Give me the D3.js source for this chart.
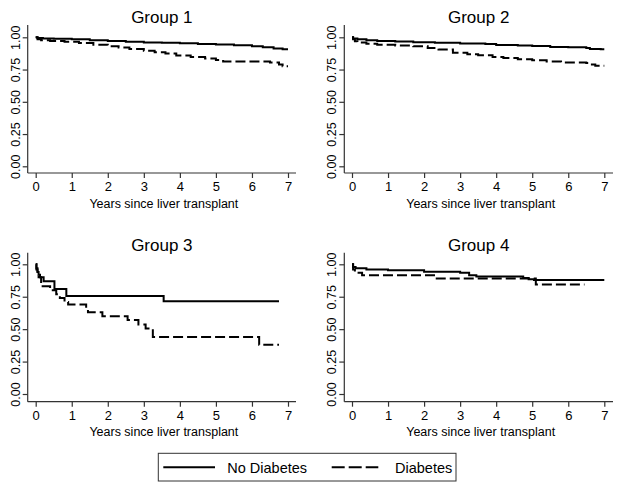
<!DOCTYPE html>
<html><head><meta charset="utf-8">
<script src="https://cdn.jsdelivr.net/npm/d3@7"></script>
<style>body{margin:0;background:#fff}svg{display:block}text{font-family:"Liberation Sans",Arial,sans-serif;fill:#000}</style>
</head><body>
<svg id="c" width="624" height="490"></svg>
<script>
const groupTitles = ["Group 1", "Group 2", "Group 3", "Group 4"];
const seriesNames = ["No Diabetes", "Diabetes"];
const xTicks = [0, 1, 2, 3, 4, 5, 6, 7];
const yTicks = [0, 0.25, 0.5, 0.75, 1];
const xTitle = "Years since liver transplant";

// [years, survival] step points; last point = end of follow-up
const g1NoDiab = [[0,1],[0.05,0.995],[0.2,0.99],[0.5,0.988],[1,0.985],[1.5,0.978],[2,0.972],[2.5,0.965],[3,0.96],[3.5,0.957],[4,0.953],[4.5,0.948],[5,0.945],[5.5,0.938],[6,0.93],[6.3,0.922],[6.6,0.914],[6.85,0.908],[7,0.908]];
const g1Diab = [[0,1],[0.05,0.985],[0.15,0.978],[0.4,0.972],[0.8,0.965],[1.2,0.955],[1.6,0.943],[2,0.93],[2.3,0.92],[2.6,0.91],[3,0.895],[3.3,0.885],[3.6,0.875],[3.9,0.858],[4.3,0.848],[4.7,0.835],[5.0,0.825],[5.2,0.812],[6.5,0.805],[6.75,0.79],[6.85,0.775],[7,0.775]];
const g2NoDiab = [[0,1],[0.03,0.99],[0.15,0.985],[0.4,0.978],[0.7,0.972],[1.2,0.967],[1.7,0.962],[2.3,0.958],[3,0.952],[3.7,0.948],[4,0.94],[4.6,0.936],[5,0.932],[5.5,0.925],[6,0.922],[6.5,0.918],[6.6,0.91],[6.9,0.907],[7,0.907]];
const g2Diab = [[0,1],[0.03,0.985],[0.08,0.97],[0.15,0.96],[0.4,0.95],[0.7,0.943],[1.2,0.937],[1.7,0.93],[2.1,0.918],[2.4,0.905],[2.8,0.88],[3.2,0.868],[3.5,0.86],[3.9,0.848],[4.2,0.84],[4.6,0.83],[5,0.822],[5.4,0.812],[5.8,0.805],[6.5,0.8],[6.6,0.79],[6.75,0.78],[7,0.78]];
const g3NoDiab = [[0,1],[0.02,0.97],[0.05,0.94],[0.08,0.92],[0.12,0.9],[0.22,0.87],[0.52,0.81],[0.85,0.755],[3.55,0.715],[6.75,0.715]];
const g3Diab = [[0,1],[0.02,0.96],[0.05,0.93],[0.08,0.9],[0.15,0.83],[0.4,0.8],[0.57,0.77],[0.67,0.74],[0.8,0.71],[0.9,0.69],[1.4,0.66],[1.45,0.63],[1.85,0.6],[2.55,0.57],[2.85,0.535],[3.05,0.505],[3.25,0.44],[6.2,0.38],[6.75,0.38]];
const g4NoDiab = [[0,1],[0.03,0.98],[0.1,0.97],[0.4,0.96],[1.0,0.955],[2.0,0.943],[3.0,0.935],[3.25,0.915],[3.45,0.905],[4.75,0.895],[4.9,0.885],[5.05,0.878],[7,0.878]];
const g4Diab = [[0,1],[0.03,0.96],[0.08,0.935],[0.28,0.915],[2.32,0.89],[5.1,0.845],[6.45,0.845]];

const panelData = [[g1NoDiab, g1Diab], [g2NoDiab, g2Diab], [g3NoDiab, g3Diab], [g4NoDiab, g4Diab]];

const layouts = [
  {x0:35.7, x1:288, ax0:27.7, ax1:296, y0:166.3, y1:37.3, axB:173, axT:25, tY:23},
  {x0:352, x1:604.3, ax0:344.3, ax1:613, y0:166.3, y1:37.3, axB:173, axT:25, tY:23},
  {x0:35.7, x1:288, ax0:27.7, ax1:296, y0:394, y1:264.3, axB:401.7, axT:252.7, tY:251},
  {x0:352, x1:604.3, ax0:344.3, ax1:613, y0:394, y1:264.3, axB:401.7, axT:252.7, tY:251}
];

const svg = d3.select("#c");
const axisColor = "#333";
const dashPlot = "10,4";

layouts.forEach((L, i) => {
  const g = svg.append("g");
  const x = d3.scaleLinear().domain([0, 7]).range([L.x0, L.x1]);
  const y = d3.scaleLinear().domain([0, 1]).range([L.y0, L.y1]);

  const xa = g.append("g").attr("transform", `translate(0,${L.axB})`)
    .call(d3.axisBottom(x).tickValues(xTicks).tickSize(5).tickPadding(4).tickFormat(d3.format("d")));
  xa.select(".domain").remove();
  xa.append("line").attr("x1", L.ax0).attr("x2", L.ax1).attr("stroke", axisColor).attr("stroke-width", 1.2);
  xa.selectAll(".tick line").attr("stroke", axisColor).attr("stroke-width", 1.2);
  xa.selectAll(".tick text").attr("font-size", 13).attr("fill", "#000").style("font-family", '"Liberation Sans",Arial,sans-serif');

  const ya = g.append("g").attr("transform", `translate(${L.ax0},0)`)
    .call(d3.axisLeft(y).tickValues(yTicks).tickSize(5).tickFormat(d3.format(".2f")));
  ya.select(".domain").remove();
  ya.append("line").attr("y1", L.axB).attr("y2", L.axT).attr("stroke", axisColor).attr("stroke-width", 1.2);
  ya.selectAll(".tick line").attr("stroke", axisColor).attr("stroke-width", 1.2);
  ya.selectAll(".tick text")
    .attr("x", null).attr("dy", null)
    .attr("text-anchor", "middle")
    .attr("transform", "translate(-8,0) rotate(-90)")
    .attr("font-size", 12.5).attr("fill", "#000")
    .style("font-family", '"Liberation Sans",Arial,sans-serif');

  const cx = (L.ax0 + L.ax1) / 2;
  g.append("text").attr("x", cx).attr("y", L.tY).attr("text-anchor", "middle")
    .attr("font-size", 17).text(groupTitles[i]);
  g.append("text").attr("x", cx + 2).attr("y", L.axB + 34.5).attr("text-anchor", "middle")
    .attr("font-size", 12.5).text(xTitle);

  const line = d3.line().x(d => x(d[0])).y(d => y(d[1])).curve(d3.curveStepAfter);
  panelData[i].forEach((s, k) => {
    g.append("path").datum(s).attr("d", line)
      .attr("fill", "none").attr("stroke", "#000").attr("stroke-width", 2)
      .attr("stroke-dasharray", k === 1 ? dashPlot : null);
  });
});

const lg = svg.append("g");
lg.append("rect").attr("x", 158.3).attr("y", 453.3).attr("width", 297.7).attr("height", 27.7)
  .attr("fill", "#fff").attr("stroke", "#333").attr("stroke-width", 1);
lg.append("line").attr("x1", 163.3).attr("x2", 215).attr("y1", 467.3).attr("y2", 467.3)
  .attr("stroke", "#000").attr("stroke-width", 2);
lg.append("text").attr("x", 227.3).attr("y", 472.5).attr("font-size", 14.5).text(seriesNames[0]);
lg.append("line").attr("x1", 331.7).attr("x2", 378.3).attr("y1", 467.3).attr("y2", 467.3)
  .attr("stroke", "#000").attr("stroke-width", 2).attr("stroke-dasharray", "13,4");
lg.append("text").attr("x", 395).attr("y", 472.5).attr("font-size", 14.5).text(seriesNames[1]);
</script>
</body></html>
